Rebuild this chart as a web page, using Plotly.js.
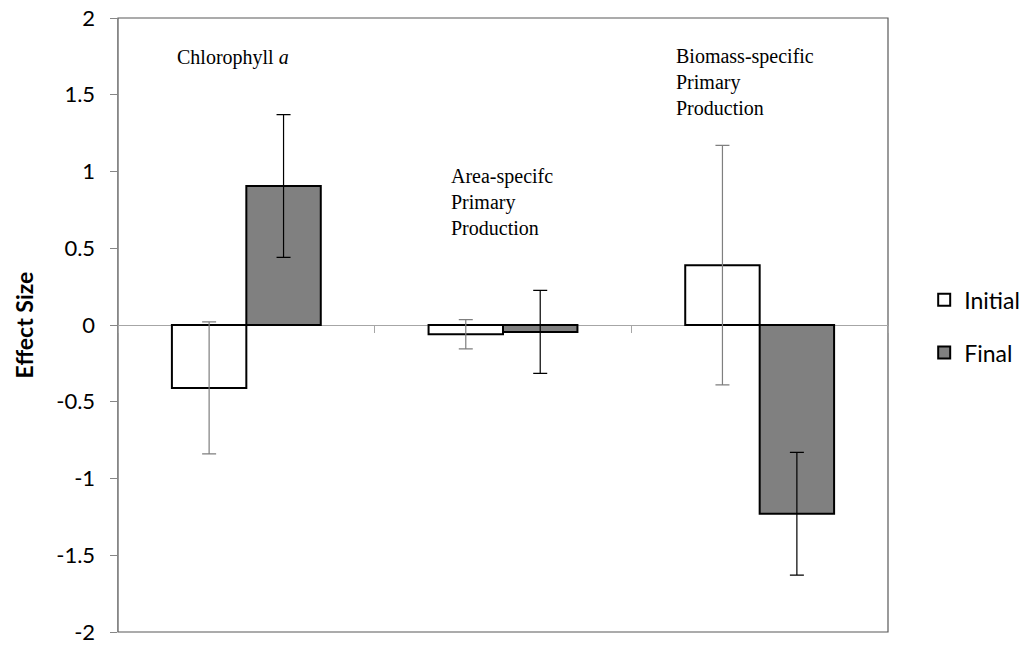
<!DOCTYPE html>
<html>
<head>
<meta charset="utf-8">
<script src="https://cdn.plot.ly/plotly-3.0.1.min.js"></script>
<style>html,body{margin:0;padding:0;background:#fff;}#chart{width:1031px;height:645px;}</style>
</head>
<body>
<div id="chart"></div>
<script>
const categories = ['Chlorophyll a', 'Area-specific Primary Production', 'Biomass-specific Primary Production'];
const initialValues = [-0.41, -0.06, 0.39];
const initialErrors = [0.43, 0.095, 0.78];
const finalValues = [0.905, -0.045, -1.23];
const finalErrors = [0.465, 0.27, 0.40];
const yTickValues = [-2, -1.5, -1, -0.5, 0, 0.5, 1, 1.5, 2];
const yTickLabels = ['-2', '-1.5', '-1', '-0.5', '0', '0.5', '1', '1.5', '2'];
const labelTexts = ['Chlorophyll <i>a</i>', 'Area-specifc<br>Primary<br>Production', 'Biomass-specific<br>Primary<br>Production'];

const traces = [
  {
    type: 'bar', name: 'Initial', x: categories, y: initialValues,
    marker: {color: '#ffffff', line: {color: '#000000', width: 2}},
    error_y: {type: 'data', array: initialErrors, visible: true, color: '#7f7f7f', thickness: 1.2, width: 7},
    legendgroup: 'g1'
  },
  {
    type: 'bar', name: 'Final', x: categories, y: finalValues,
    marker: {color: '#808080', line: {color: '#000000', width: 2}},
    error_y: {type: 'data', array: finalErrors, visible: true, color: '#000000', thickness: 1.2, width: 7},
    legendgroup: 'g2'
  }
];

const layout = {
  width: 1031, height: 645,
  margin: {l: 118, r: 143, t: 18, b: 13, autoexpand: false},
  paper_bgcolor: '#ffffff', plot_bgcolor: '#ffffff',
  barmode: 'group', bargap: 0.42, bargroupgap: 0,
  showlegend: true,
  legend: {
    x: 1.047, xanchor: 'left', y: 0.498, yanchor: 'middle',
    traceorder: 'grouped', tracegroupgap: 20,
    font: {family: 'Lato, sans-serif', size: 23, color: '#000'},
    bgcolor: 'rgba(0,0,0,0)'
  },
  xaxis: {
    type: 'category', anchor: 'free', position: 0.5,
    showticklabels: false, tickson: 'boundaries',
    ticks: 'outside', ticklen: 7, tickcolor: '#a6a6a6', tickwidth: 1,
    showline: true, linecolor: '#a6a6a6', linewidth: 1,
    showgrid: false, zeroline: false, layer: 'below traces', fixedrange: true
  },
  yaxis: {
    range: [-2, 2], tickmode: 'array', tickvals: yTickValues, ticktext: yTickLabels,
    ticks: 'outside', ticklen: 7, tickcolor: '#868686', tickwidth: 1,
    ticklabelstandoff: 10,
    showline: true, linecolor: '#868686', linewidth: 1.5,
    showgrid: false, zeroline: false,
    tickfont: {family: 'Lato, sans-serif', size: 22, color: '#000'},
    title: {text: '<b>Effect Size</b>', font: {family: 'Lato, sans-serif', size: 23, color: '#000'}, standoff: 16}
  },
  shapes: [
    {type: 'rect', xref: 'paper', yref: 'paper', x0: 0, x1: 1, y0: 0, y1: 1,
     line: {color: '#595959', width: 1.2}, layer: 'below'}
  ],
  annotations: [
    {text: labelTexts[0], xref: 'paper', yref: 'y', x: 0.074, y: 1.74, xanchor: 'left', yanchor: 'middle', align: 'left', showarrow: false,
     font: {family: 'Liberation Serif, Times New Roman, serif', size: 20, color: '#000'}},
    {text: labelTexts[1], xref: 'paper', yref: 'y', x: 0.4305, y: 0.80, xanchor: 'left', yanchor: 'middle', align: 'left', showarrow: false,
     font: {family: 'Liberation Serif, Times New Roman, serif', size: 20, color: '#000'}},
    {text: labelTexts[2], xref: 'paper', yref: 'y', x: 0.7225, y: 1.58, xanchor: 'left', yanchor: 'middle', align: 'left', showarrow: false,
     font: {family: 'Liberation Serif, Times New Roman, serif', size: 20, color: '#000'}}
  ]
};

Plotly.newPlot('chart', traces, layout, {displayModeBar: false, staticPlot: true});
</script>
</body>
</html>
